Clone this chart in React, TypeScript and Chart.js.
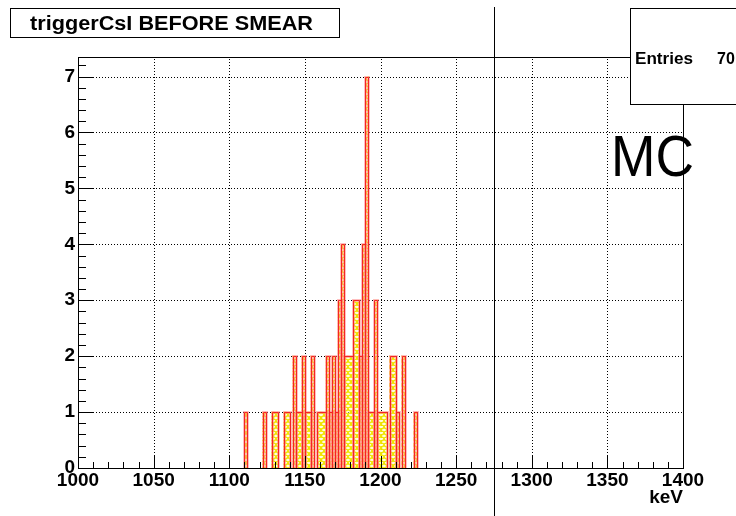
import React, { useEffect, useRef } from "react";
import { Chart, registerables } from "chart.js";

Chart.register(...registerables);

// ---- data (2 keV bins, bin centres in keV) ----
const binCenters = [
  1111, 1123, 1129, 1131, 1137, 1139, 1143, 1145, 1147, 1149, 1151, 1153, 1155,
  1159, 1161, 1163, 1165, 1167, 1169, 1171, 1173, 1175, 1177, 1179, 1181, 1183,
  1185, 1187, 1189, 1191, 1193, 1195, 1197, 1199, 1201, 1203, 1207, 1209, 1211,
  1215, 1223,
];
const binCounts = [
  1, 1, 1, 1, 1, 1, 2, 1, 1, 2, 1, 1, 2,
  1, 1, 1, 2, 1, 2, 1, 3, 4, 2, 2, 2, 3,
  3, 2, 4, 7, 1, 1, 3, 1, 1, 1, 2, 2, 1,
  2, 1,
];
const xTickValues = [1000, 1050, 1100, 1150, 1200, 1250, 1300, 1350, 1400];
const yTickValues = [0, 1, 2, 3, 4, 5, 6, 7];
const xMinorStep = 10;
const yMinorStep = 0.2;
const xMin = 1000;
const xMax = 1400;
const yMin = 0;
const yMax = 7.35;
const thresholdKeV = 1275;
const titleText = "triggerCsI BEFORE SMEAR";
const statsName = "Entries";
const statsValue = "70";
const tagText = "MC";
const xAxisTitle = "keV";

const FONT = "'Liberation Sans', Arial, Helvetica, sans-serif";

function makePattern(): CanvasPattern | string {
  const t = document.createElement("canvas");
  t.width = 6;
  t.height = 6;
  const c = t.getContext("2d");
  if (!c) return "rgba(240,230,60,0.5)";
  c.fillStyle = "rgba(255,250,190,0.5)";
  c.fillRect(0, 0, 6, 6);
  c.strokeStyle = "rgba(240,228,0,1)";
  c.lineWidth = 1.5;
  c.beginPath();
  c.arc(3, 0, 3, 0, Math.PI);
  c.stroke();
  c.beginPath();
  c.arc(0, 3, 3, 0, Math.PI);
  c.stroke();
  c.beginPath();
  c.arc(6, 3, 3, 0, Math.PI);
  c.stroke();
  const p = c.createPattern(t, "repeat");
  return p || "rgba(240,230,60,0.5)";
}

function fitText(
  ctx: CanvasRenderingContext2D,
  text: string,
  x: number,
  y: number,
  width: number,
  align: CanvasTextAlign
) {
  const w = ctx.measureText(text).width;
  const sx = w > 0 ? width / w : 1;
  ctx.save();
  ctx.translate(x, y);
  ctx.scale(sx, 1);
  ctx.textAlign = align;
  ctx.fillText(text, 0, 0);
  ctx.restore();
}

const px = (v: number) => Math.round(v) + 0.5;

const rootPlugin = {
  id: "rootStyle",
  beforeDraw(chart: any) {
    const ctx = chart.ctx;
    ctx.save();
    ctx.fillStyle = "#ffffff";
    ctx.fillRect(0, 0, chart.width, chart.height);
    ctx.restore();
  },
  beforeDatasetsDraw(chart: any) {
    const ctx: CanvasRenderingContext2D = chart.ctx;
    const { left, right, top, bottom } = chart.chartArea;
    const xs = chart.scales.x;
    const ys = chart.scales.y;
    ctx.save();
    ctx.strokeStyle = "#000";
    ctx.lineWidth = 1;
    ctx.setLineDash([1, 2]);
    for (const v of xTickValues) {
      if (v === xMin || v === xMax) continue;
      const x = px(xs.getPixelForValue(v));
      ctx.beginPath();
      ctx.moveTo(x, bottom);
      ctx.lineTo(x, top);
      ctx.stroke();
    }
    for (const v of yTickValues) {
      if (v === yMin) continue;
      const y = px(ys.getPixelForValue(v));
      ctx.beginPath();
      ctx.moveTo(left, y);
      ctx.lineTo(right, y);
      ctx.stroke();
    }
    ctx.restore();
  },
  afterDatasetsDraw(chart: any) {
    const ctx: CanvasRenderingContext2D = chart.ctx;
    const { left, right, top, bottom } = chart.chartArea;
    const xs = chart.scales.x;
    const ys = chart.scales.y;

    // histogram outlines: consecutive bins of equal content form one box
    const meta = chart.getDatasetMeta(0);
    const items = (meta.data as any[])
      .map((el, i) => ({ el, n: binCounts[i] }))
      .sort((a, b) => a.el.x - b.el.x);
    const runs: { l: number; r: number; t: number; b: number; n: number }[] = [];
    for (const it of items) {
      const l = it.el.x - it.el.width / 2;
      const r = it.el.x + it.el.width / 2;
      const last = runs[runs.length - 1];
      if (last && Math.abs(last.r - l) < 0.6 && last.n === it.n) {
        last.r = r;
      } else {
        runs.push({ l, r, t: it.el.y, b: it.el.base, n: it.n });
      }
    }
    const drawOutlines = (color: string, width: number) => {
      ctx.save();
      ctx.strokeStyle = color;
      ctx.lineWidth = width;
      for (const rn of runs) {
        const l = px(rn.l);
        const r = px(rn.r);
        const t = px(rn.t);
        ctx.beginPath();
        ctx.moveTo(l, rn.b);
        ctx.lineTo(l, t);
        ctx.lineTo(r, t);
        ctx.lineTo(r, rn.b);
        ctx.stroke();
      }
      ctx.restore();
    };
    drawOutlines("rgba(255,125,125,0.5)", 3);
    drawOutlines("#f42424", 1);

    ctx.save();
    // frame
    ctx.strokeStyle = "#000";
    ctx.lineWidth = 1;
    ctx.strokeRect(px(left), px(top), Math.round(right - left), Math.round(bottom - top));

    // ticks
    ctx.beginPath();
    for (let v = xMin; v <= xMax + 1e-6; v += xMinorStep) {
      const x = px(xs.getPixelForValue(v));
      const major = xTickValues.includes(Math.round(v));
      ctx.moveTo(x, bottom);
      ctx.lineTo(x, bottom - (major ? 12 : 6));
    }
    for (let i = 0; ; i++) {
      const v = yMin + i * yMinorStep;
      if (v > yMax + 1e-6) break;
      const y = px(ys.getPixelForValue(v));
      const major = Math.abs(v - Math.round(v)) < 1e-6;
      ctx.moveTo(left, y);
      ctx.lineTo(left + (major ? 16 : 8), y);
    }
    ctx.stroke();

    // threshold line (spans whole pad height)
    const tx = px(xs.getPixelForValue(thresholdKeV));
    ctx.beginPath();
    ctx.moveTo(tx, 7);
    ctx.lineTo(tx, chart.height);
    ctx.stroke();

    // tick labels
    ctx.fillStyle = "#000";
    ctx.font = `bold 19px ${FONT}`;
    ctx.textBaseline = "middle";
    ctx.textAlign = "right";
    for (const v of yTickValues) {
      ctx.fillText(String(v), left - 3, ys.getPixelForValue(v));
    }
    ctx.textBaseline = "alphabetic";
    ctx.textAlign = "center";
    for (const v of xTickValues) {
      ctx.fillText(String(v), xs.getPixelForValue(v), bottom + 18);
    }
    // axis title
    ctx.textAlign = "right";
    ctx.font = `bold 19px ${FONT}`;
    ctx.fillText(xAxisTitle, right, bottom + 35);

    // MC tag
    ctx.font = `58px ${FONT}`;
    fitText(ctx, tagText, 611, 176, 83, "left");

    // title box
    ctx.fillStyle = "#fff";
    ctx.fillRect(10, 8, 329, 29);
    ctx.strokeStyle = "#000";
    ctx.strokeRect(10.5, 8.5, 329, 29);
    ctx.fillStyle = "#000";
    ctx.font = `bold 20px ${FONT}`;
    fitText(ctx, titleText, 171.5, 29.5, 283, "center");

    // stats box
    ctx.fillStyle = "#fff";
    ctx.fillRect(630, 8, 120, 96);
    ctx.strokeStyle = "#000";
    ctx.strokeRect(630.5, 8.5, 120, 96);
    ctx.fillStyle = "#000";
    ctx.font = `bold 16px ${FONT}`;
    fitText(ctx, statsName, 635, 64, 58, "left");
    ctx.textAlign = "left";
    ctx.fillText(statsValue, 717, 64);
    ctx.restore();
  },
};

export default function App() {
  const ref = useRef<HTMLCanvasElement | null>(null);
  useEffect(() => {
    const canvas = ref.current;
    if (!canvas) return;
    const chart = new Chart(canvas, {
      type: "bar",
      data: {
        datasets: [
          {
            data: binCenters.map((x, i) => ({ x, y: binCounts[i] })),
            backgroundColor: makePattern() as any,
            borderWidth: 0,
            barPercentage: 1,
            categoryPercentage: 1,
          },
        ],
      },
      options: {
        responsive: false,
        animation: false,
        devicePixelRatio: 1,
        layout: { padding: { left: 0, top: 57, right: 53, bottom: 0 } },
        plugins: {
          legend: { display: false },
          tooltip: { enabled: false },
          title: { display: false },
        },
        scales: {
          x: {
            type: "linear",
            min: xMin,
            max: xMax,
            offset: false,
            grid: { display: false },
            border: { display: false },
            ticks: { display: false, stepSize: 50 },
            afterFit: (s: any) => {
              s.height = 48;
            },
          },
          y: {
            type: "linear",
            min: yMin,
            max: yMax,
            grid: { display: false },
            border: { display: false },
            ticks: { display: false, stepSize: 1 },
            afterFit: (s: any) => {
              s.width = 78;
            },
          },
        },
      } as any,
      plugins: [rootPlugin as any],
    });
    return () => chart.destroy();
  }, []);
  return (
    <div style={{ position: "absolute", left: 0, top: 0, width: 736, height: 516 }}>
      <canvas ref={ref} width={736} height={516} style={{ width: 736, height: 516 }} />
    </div>
  );
}
